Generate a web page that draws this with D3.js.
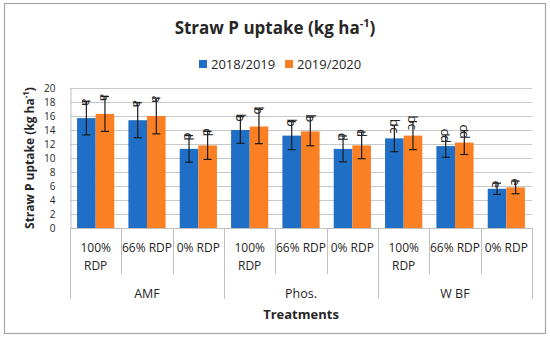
<!DOCTYPE html>
<html>
<head>
<meta charset="utf-8">
<script src="https://cdn.jsdelivr.net/npm/d3@7"></script>
<style>
    body { margin: 0; background: #fff; }
    text { font-family: "Open Sans", "Noto Sans", sans-serif; fill: #262626; }
</style>
</head>
<body>
<div id="chart"></div>
<script>
    "use strict";

    // chart values
    const groups = ["AMF", "Phos.", "W BF"];
    const levels = ["100% RDP", "66% RDP", "0% RDP"];
    const seasons = ["2018/2019", "2019/2020"];
    const values2018 = [15.7, 15.4, 11.3, 14.0, 13.2, 11.3, 12.8, 11.7, 5.6];
    const values2019 = [16.3, 16.0, 11.8, 14.5, 13.8, 11.8, 13.2, 12.2, 5.8];
    const errors2018 = [2.4, 2.5, 1.9, 1.9, 2.0, 1.85, 1.9, 1.6, 0.8];
    const errors2019 = [2.5, 2.55, 2.0, 2.45, 2.05, 1.9, 2.0, 1.7, 0.9];
    const letters2018 = ["a", "a", "d", "b", "b", "d", "bc", "cd", "e"];
    const letters2019 = ["a", "a", "d", "b", "b", "d", "bc", "cd", "e"];
    const yTicks = [0, 2, 4, 6, 8, 10, 12, 14, 16, 18, 20];
    const colors = ["#1f6fc6", "#fb7f23"];

    const width = 550;
    const height = 340;
    const margin = { left: 70, right: 18, top: 88, bottom: 112 };

    const svg = d3.select("#chart").append("svg").attr("width", width).attr("height", height);

    // chart border
    svg.append("rect")
        .attr("x", 4.5).attr("y", 3.5)
        .attr("width", 541).attr("height", 330)
        .attr("fill", "none").attr("stroke", "#a6a6a6").attr("stroke-width", 1.2);

    // one entry per bar position
    const cats = [];
    groups.forEach((g) => levels.forEach((l) => cats.push(g + "|" + l)));

    const x = d3.scaleBand().domain(cats).range([margin.left, width - margin.right]);
    const xs = d3.scaleBand().domain(seasons).range([0, x.bandwidth()]).paddingInner(0).paddingOuter(0.38);
    const y = d3.scaleLinear().domain([0, 20]).range([height - margin.bottom, margin.top]);

    // gridlines
    svg.append("g")
        .selectAll("line")
        .data(yTicks.slice(1))
        .join("line")
        .attr("x1", margin.left).attr("x2", width - margin.right)
        .attr("y1", (d) => Math.round(y(d)) + 0.5).attr("y2", (d) => Math.round(y(d)) + 0.5)
        .attr("stroke", "#c8c8c8");

    // y axis
    const yAxis = svg.append("g")
        .attr("transform", `translate(${margin.left + 0.5},0)`)
        .call(d3.axisLeft(y).tickValues(yTicks).tickSize(0).tickPadding(15));
    yAxis.select(".domain").attr("stroke", "#bfbfbf");
    yAxis.selectAll("text").style("font-size", "10px").attr("fill", "#262626");

    // bars
    const series = [values2018, values2019];
    const errs = [errors2018, errors2019];
    const letters = [letters2018, letters2019];
    const barData = [];
    cats.forEach((c, i) => {
        seasons.forEach((s, j) => {
            barData.push({ cat: c, season: s, j: j, value: series[j][i], err: errs[j][i], letter: letters[j][i] });
        });
    });

    svg.append("g")
        .selectAll("rect")
        .data(barData)
        .join("rect")
        .attr("x", (d) => x(d.cat) + xs(d.season))
        .attr("y", (d) => y(d.value))
        .attr("width", xs.bandwidth())
        .attr("height", (d) => y(0) - y(d.value))
        .attr("fill", (d) => colors[d.j]);

    // error bars
    const errG = svg.append("g").attr("stroke", "#1a1a1a").attr("stroke-width", 1.2);
    barData.forEach((d) => {
        const cx = x(d.cat) + xs(d.season) + xs.bandwidth() / 2;
        const top = y(d.value + d.err);
        const bot = y(d.value - d.err);
        errG.append("line").attr("x1", cx).attr("x2", cx).attr("y1", top).attr("y2", bot);
        errG.append("line").attr("x1", cx - 4).attr("x2", cx + 4).attr("y1", top).attr("y2", top);
        errG.append("line").attr("x1", cx - 4).attr("x2", cx + 4).attr("y1", bot).attr("y2", bot);
    });

    // significance letters, rotated clockwise
    svg.append("g")
        .selectAll("text")
        .data(barData)
        .join("text")
        .attr("transform", (d) => {
            const cx = x(d.cat) + xs(d.season) + xs.bandwidth() / 2;
            return `translate(${cx},${y(d.value + d.err) + 1}) rotate(90)`;
        })
        .attr("text-anchor", "middle")
        .attr("dy", "0.35em")
        .style("font-size", "13.5px")
        .text((d) => d.letter);

    // x axis line
    const base = y(0);
    svg.append("line")
        .attr("x1", margin.left).attr("x2", width - margin.right)
        .attr("y1", base + 0.5).attr("y2", base + 0.5)
        .attr("stroke", "#bfbfbf");

    // category separators: short for levels, long for groups
    const sepG = svg.append("g").attr("stroke", "#bfbfbf");
    cats.forEach((c, i) => {
        const sx = Math.round(x(c)) + 0.5;
        sepG.append("line").attr("x1", sx).attr("x2", sx).attr("y1", base).attr("y2", i % 3 == 0 ? 299 : 274);
    });
    sepG.append("line")
        .attr("x1", width - margin.right + 0.5).attr("x2", width - margin.right + 0.5)
        .attr("y1", base).attr("y2", 299);

    // level labels
    const lvlG = svg.append("g").style("font-size", "12px").attr("text-anchor", "middle");
    cats.forEach((c) => {
        const label = c.split("|")[1];
        const cx = x(c) + x.bandwidth() / 2;
        const t = lvlG.append("text").attr("x", cx).attr("y", 252);
        if (label.startsWith("100%")) {
            t.text("100%");
            lvlG.append("text").attr("x", cx).attr("y", 270).text("RDP");
        } else {
            t.text(label);
        }
    });

    // group labels
    svg.append("g")
        .selectAll("text")
        .data(groups)
        .join("text")
        .attr("x", (g, i) => x(cats[i * 3 + 1]) + x.bandwidth() / 2)
        .attr("y", 298)
        .attr("text-anchor", "middle")
        .style("font-size", "12.5px")
        .text((g) => g);

    // axis titles
    svg.append("text")
        .attr("x", (margin.left + width - margin.right) / 2)
        .attr("y", 319)
        .attr("text-anchor", "middle")
        .style("font-size", "13px").style("font-weight", "bold")
        .text("Treatments");

    const yTitle = svg.append("text")
        .attr("transform", `translate(30,${(y(0) + y(20)) / 2}) rotate(-90)`)
        .attr("text-anchor", "middle")
        .attr("dy", "0.35em")
        .style("font-size", "12px").style("font-weight", "bold");
    yTitle.append("tspan").text("Straw P uptake (kg ha");
    yTitle.append("tspan").attr("dy", -5).style("font-size", "8px").text("-1");
    yTitle.append("tspan").attr("dy", 5).text(")");

    // chart title
    const title = svg.append("text")
        .attr("x", width / 2)
        .attr("y", 34)
        .attr("text-anchor", "middle")
        .style("font-size", "17px").style("font-weight", "bold");
    title.append("tspan").text("Straw P uptake (kg ha");
    title.append("tspan").attr("dy", -7).style("font-size", "11px").text("-1");
    title.append("tspan").attr("dy", 7).text(")");

    // legend
    const legend = svg.append("g").attr("transform", "translate(0,64)");
    const legendX = [199, 285];
    seasons.forEach((s, j) => {
        legend.append("rect").attr("x", legendX[j]).attr("y", -4).attr("width", 8).attr("height", 8).attr("fill", colors[j]);
        legend.append("text").attr("x", legendX[j] + 12).attr("y", 0).attr("dy", "0.35em")
            .style("font-size", "13px").text(s);
    });
</script>
</body>
</html>
